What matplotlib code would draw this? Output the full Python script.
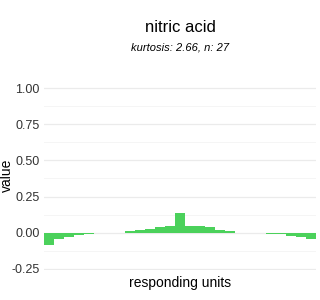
import matplotlib
matplotlib.use('Agg')
import matplotlib.pyplot as plt
import numpy as np

plt.rcParams['font.family'] = ['Liberation Sans', 'DejaVu Sans']

# Dados
unidades = np.arange(1, 28)
valores = [-0.085, -0.043, -0.030, -0.016, -0.007, -0.005, 0.0, 0.0,
           0.011, 0.018, 0.025, 0.039, 0.048, 0.135, 0.048, 0.046,
           0.039, 0.018, 0.011, 0.0, 0.0, 0.0, -0.007, -0.007,
           -0.020, -0.027, -0.041]
yticks = [-0.25, 0.0, 0.25, 0.5, 0.75, 1.0]
ytick_labels = ['-0.25', '0.00', '0.25', '0.50', '0.75', '1.00']

fig = plt.figure(figsize=(3.2, 3.0), dpi=100)
ax = fig.add_axes([0.1375, 0.1, 0.85, 0.61])

ax.bar(unidades, valores, width=1.0, color='#4BD15B', zorder=3)

ax.set_xlim(0.5, 27.5)
ax.set_ylim(-0.258, 1.007)
ax.set_yticks(yticks)
ax.set_yticklabels(ytick_labels)
ax.set_yticks(np.arange(-0.125, 1.0, 0.25), minor=True)
ax.set_xticks([])

ax.grid(True, axis='y', which='major', color='#EBEBEB', linewidth=0.9, zorder=0)
ax.grid(True, axis='y', which='minor', color='#F5F5F5', linewidth=0.7, zorder=0)
for s in ax.spines.values():
    s.set_visible(False)
ax.tick_params(axis='y', which='both', length=0, pad=3, labelsize=9, labelcolor='#333333')

ax.set_xlabel('responding units', fontsize=10, labelpad=4)
# rótulo do eixo y posicionado à mão para não ser cortado
fig.text(7 / 320, 1 - 175 / 300, 'value', rotation=90, ha='center', va='center', fontsize=10)

fig.text(0.5625, 1 - 27 / 300, 'nitric acid', ha='center', va='center', fontsize=12)
fig.text(0.5625, 1 - 48 / 300, 'kurtosis: 2.66, n: 27', ha='center', va='center',
         fontsize=8, style='italic')

fig.savefig('out.png', dpi=100)
